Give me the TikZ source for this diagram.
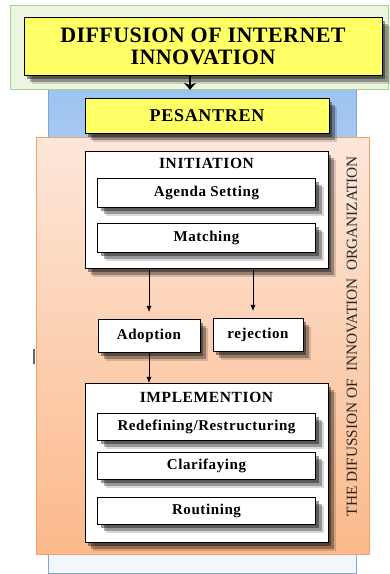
\documentclass[tikz,border=0pt]{standalone}
\usepackage{fontspec}
\setmainfont{Liberation Serif}
\newfontfamily\boxfont[LetterSpace=4]{Liberation Serif}
\newfontfamily\titlefont[LetterSpace=2]{Liberation Serif}
\usepackage{tikz}
\usetikzlibrary{shadows, arrows, arrows.meta, positioning}
\definecolor{greenfill}{HTML}{EBF5E0}
\definecolor{greenline}{HTML}{A9D18E}
\definecolor{bluetop}{HTML}{9DC3F0}
\definecolor{bluebottom}{HTML}{F4F8FC}
\definecolor{blueline}{HTML}{7DA7D9}
\definecolor{orangetop}{HTML}{FDE7DA}
\definecolor{orangebottom}{HTML}{FBB98A}
\definecolor{orangeline}{HTML}{F4A16A}
\definecolor{titleyellow}{HTML}{FFFF66}
\tikzset{
    softshadow/.style = {drop shadow={shadow xshift=3pt, shadow yshift=-4pt, fill=black, opacity=0.4},
      drop shadow={shadow xshift=6pt, shadow yshift=-7pt, fill=black, opacity=0.3},
      drop shadow={shadow xshift=8pt, shadow yshift=-9pt, fill=black, opacity=0.15}},
    bgnode/.style = {rectangle, inner sep = 0em, node distance=0em},
    yellownode/.style = {draw, rectangle, fill=titleyellow, inner sep = 0em, node distance=0em,
      align=center, softshadow},
    framenode/.style = {draw, rectangle, fill=white, inner sep = 0em, node distance=0em,
      minimum width=243pt, softshadow},
    subnode/.style = {draw, rectangle, fill=white, inner sep = 0em, node distance=0em,
      minimum width=218pt, minimum height=27pt, softshadow,
      font=\boxfont\bfseries\fontsize{15}{17}\selectfont},
    choicenode/.style = {draw, rectangle, fill=white, inner sep = 0em, node distance=0em,
      minimum height=33pt, softshadow, font=\boxfont\bfseries\fontsize{15}{17}\selectfont},
    textnode/.style = {draw=none, fill=none, rectangle, inner sep = 0em, node distance=0em,
      font=\boxfont\bfseries\fontsize{15.5}{17}\selectfont},
    connect/.style = {black, -{Latex[length=6pt, width=5pt]}},
    bigconnect/.style = {black, -{Stealth[length=7pt, width=12pt]}, line width=1.6pt}
}

\begin{document}
\begin{tikzpicture}[x=1pt, y=-1pt]
    \useasboundingbox (0,0) rectangle (390,574);

    % background panels
    \node [name=bluebg, bgnode, draw=blueline, top color=bluetop, bottom color=bluebottom,
        minimum width=308pt, minimum height=484pt] at (202,331) {};
    \node [name=greenbg, bgnode, draw=greenline, fill=greenfill, line width=0.8pt,
        minimum width=378pt, minimum height=84pt] at (199,47) {};
    \node [name=orangebg, bgnode, draw=orangeline, top color=orangetop, bottom color=orangebottom,
        line width=0.8pt, minimum width=333pt, minimum height=417pt] at (202.5,345.5) {};
    \fill [black!60] (33,349) rectangle (35,364);

    \node [name=title, yellownode, minimum width=358pt, minimum height=58pt,
        font=\titlefont\bfseries\fontsize{22}{22}\selectfont] at (203,46)
        {DIFFUSION OF INTERNET\\INNOVATION};
    \node [name=pesantren, yellownode, minimum width=244pt, minimum height=35pt,
        font=\boxfont\bfseries\fontsize{18}{20}\selectfont] at (207,115.5) {PESANTREN};

    % initiation
    \node [name=initbox, framenode, minimum height=117pt] at (206.5,209.5) {};
    \node [name=inittitle, textnode, below of=initbox, yshift=46.5pt] {INITIATION};
    \node [name=agenda, subnode, below of=initbox, yshift=17pt, minimum height=29pt] {Agenda Setting};
    \node [name=matching, subnode, below of=initbox, yshift=-28pt, minimum height=29pt] {Matching};

    % decision
    \node [name=adoption, choicenode, minimum width=102pt] at (149,335.5) {Adoption};
    \node [name=rejection, choicenode, minimum width=90pt] at (258,334.5) {rejection};

    % implementation
    \node [name=implbox, framenode, minimum height=159pt] at (206.5,462.5) {};
    \node [name=impltitle, textnode, below of=implbox, yshift=65.5pt] {IMPLEMENTION};
    \node [name=redefining, subnode, below of=implbox, yshift=36pt] {Redefining/Restructuring};
    \node [name=clarifaying, subnode, below of=implbox, yshift=-3pt] {Clarifaying};
    \node [name=routining, subnode, below of=implbox, yshift=-48pt] {Routining};

    \node [name=orgtext, draw=none, rotate=90, text=black!85, inner sep=0em,
        font=\fontsize{15.3}{17}\selectfont] at (352,336)
        {THE DIFUSSION OF\ \ INNOVATION\ \ ORGANIZATION};

    % connectors
    \draw [bigconnect, shorten >=8pt] ([xshift=-13pt]title.south)
        -- ([xshift=-13pt]title.south |- pesantren.north);
    \draw [connect, shorten >=7pt] (adoption.north |- initbox.south) -- (adoption.north);
    \draw [connect, shorten >=7pt] ([xshift=-5pt]rejection.north |- initbox.south)
        -- ([xshift=-5pt]rejection.north);
    \draw [connect] (adoption.south) -- (adoption.south |- implbox.north);
\end{tikzpicture}
\end{document}
